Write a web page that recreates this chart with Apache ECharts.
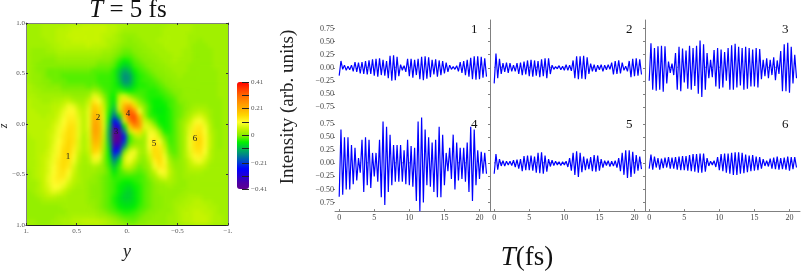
<!DOCTYPE html>
<html><head><meta charset="utf-8">
<style>html,body{margin:0;padding:0;background:#fff;width:801px;height:273px;overflow:hidden}
#clip{position:absolute;left:26px;top:23px;width:202px;height:202px;overflow:hidden;background:#98f000}
#heat{width:202px;height:202px;filter:blur(2px)}
#main{position:absolute;left:0;top:0;width:801px;height:273px}</style>
<script src="https://cdn.jsdelivr.net/npm/echarts@6/dist/echarts.min.js"></script></head>
<body><div id="clip"><div id="heat"></div></div><div id="main"></div>
<script>
// z (top to bottom) by y (left to right), hundredths of intensity
const heatRows=[
[2,2,2,3,3,3,3,3,4,4,4,5,5,5,5,5,4,4,3,3,2,2,2,2,2,2,2,2,3,3,3,3,3,2,2,2,2,2,2,2],
[2,2,2,3,3,3,4,4,4,5,5,5,5,5,5,5,4,4,3,2,2,2,2,2,2,2,2,3,3,3,3,3,3,2,2,2,2,2,2,2],
[2,2,2,3,3,3,4,4,5,5,5,5,5,5,5,4,4,3,2,1,1,1,2,2,2,2,2,3,3,3,3,3,2,2,2,2,2,2,2,2],
[2,2,2,2,3,3,4,4,4,5,5,5,5,5,5,4,3,3,2,1,0,1,1,2,2,2,3,3,3,3,3,3,2,2,1,2,2,2,2,2],
[2,2,2,2,2,3,3,4,4,4,4,4,5,4,4,4,3,2,1,0,0,0,1,1,2,2,2,3,3,3,3,3,2,1,1,1,2,2,2,2],
[2,1,1,1,2,2,3,3,3,3,3,3,3,3,3,2,2,1,0,-1,-1,0,0,1,1,2,2,2,3,3,3,2,2,1,1,1,1,2,2,2],
[2,1,1,1,1,1,2,2,2,2,2,2,2,2,2,1,1,0,-1,-2,-2,-1,0,0,1,1,2,2,2,3,3,2,2,1,1,1,1,2,2,2],
[2,1,1,0,0,0,1,1,1,1,1,1,1,1,0,0,0,-1,-3,-5,-4,-2,-1,0,0,1,1,2,2,3,2,2,2,1,1,1,1,2,2,2],
[2,1,0,0,0,0,0,0,0,0,0,0,0,0,-1,-1,-1,-2,-5,-8,-7,-3,-2,-1,0,0,1,1,2,2,2,2,1,1,1,1,1,2,2,2],
[2,1,0,0,-1,-1,-1,-1,-1,-1,-1,-1,-1,-2,-2,-2,-2,-4,-8,-12,-10,-5,-3,-2,-1,0,0,1,1,2,2,2,1,1,1,1,1,1,2,2],
[2,1,1,0,-1,-1,-1,-2,-2,-2,-2,-2,-2,-2,-3,-3,-3,-4,-9,-14,-13,-7,-4,-3,-2,-1,0,0,1,1,2,1,1,1,1,1,1,1,2,2],
[2,1,1,0,0,-1,-1,-1,-2,-2,-2,-2,-2,-2,-3,-3,-3,-4,-8,-14,-13,-7,-4,-3,-3,-2,-1,0,0,1,1,1,1,1,1,1,1,1,2,2],
[3,2,1,1,0,0,0,-1,-1,-1,-1,-1,-2,-1,-2,-3,-3,-4,-6,-10,-10,-6,-4,-4,-3,-3,-2,-1,0,0,1,1,1,1,1,1,1,1,2,2],
[3,2,2,1,1,1,1,0,0,0,0,0,0,2,1,-2,-3,-4,-3,-4,-5,-4,-3,-3,-4,-4,-3,-2,-1,0,0,1,1,1,1,1,1,1,2,2],
[3,3,2,2,2,2,2,2,2,1,1,1,2,8,6,0,-3,-5,4,7,2,-1,-2,-3,-4,-4,-4,-3,-2,-1,0,1,1,1,1,1,1,1,2,2],
[4,3,3,2,2,3,3,4,5,3,2,2,5,13,10,3,-3,-6,6,14,13,5,0,-2,-4,-5,-5,-4,-3,-2,0,0,1,1,1,1,1,1,1,2],
[4,3,3,3,3,4,4,6,9,8,4,3,7,17,14,5,-3,-8,7,20,24,15,4,0,-3,-5,-5,-5,-3,-2,-1,0,1,2,2,2,1,1,1,2],
[4,4,3,3,3,4,5,8,11,11,6,4,8,19,16,6,-4,-12,4,22,32,26,10,1,-3,-5,-6,-5,-4,-2,-1,0,2,3,4,3,2,1,1,2],
[4,4,4,3,4,4,6,9,12,12,7,4,8,21,18,7,-5,-18,-6,16,32,34,19,3,-3,-4,-5,-5,-4,-2,-1,1,3,6,7,5,2,1,1,2],
[4,4,4,4,4,5,7,10,13,13,8,4,8,22,20,7,-7,-26,-18,6,26,33,24,6,3,-2,-5,-5,-4,-2,0,2,5,9,10,7,3,1,1,2],
[4,4,4,4,4,6,8,11,14,14,8,4,8,23,21,7,-9,-33,-28,-6,16,26,24,8,7,3,-3,-5,-4,-2,0,3,7,12,13,9,4,1,1,2],
[4,4,4,4,5,6,9,12,15,14,8,4,7,23,21,6,-11,-39,-37,-16,4,14,16,5,9,8,2,-4,-4,-2,0,3,8,13,14,10,4,2,1,2],
[3,4,4,4,5,7,9,13,15,14,8,3,7,22,20,5,-11,-41,-41,-24,-3,3,5,2,10,11,6,-1,-3,-2,0,3,9,14,15,11,5,2,1,2],
[3,3,4,4,5,7,10,13,16,14,7,3,6,20,19,4,-10,-38,-38,-22,-3,0,1,2,11,14,10,2,-3,-2,0,3,9,14,16,11,5,2,1,2],
[3,3,4,4,5,8,11,14,16,13,7,3,6,18,17,3,-8,-33,-32,-14,0,3,2,2,10,15,13,5,-2,-2,0,3,9,14,15,11,5,2,1,2],
[3,3,4,4,6,8,11,15,16,12,6,3,5,16,14,2,-6,-27,-22,-1,7,9,3,2,8,15,14,7,-1,-2,0,3,8,13,14,10,4,2,2,2],
[3,3,4,5,6,9,12,15,15,11,5,2,4,12,11,1,-5,-20,-12,5,10,8,2,1,6,14,15,9,1,-1,0,3,7,11,12,8,4,2,2,2],
[3,3,4,5,7,9,13,15,14,9,4,2,3,8,7,0,-4,-14,-6,6,9,5,1,0,4,12,15,11,3,0,1,2,5,8,9,6,3,2,2,2],
[3,3,4,5,7,10,13,15,13,7,3,2,2,3,2,0,-3,-9,-3,4,5,2,-1,0,2,9,13,12,4,1,1,2,4,5,5,4,2,2,2,2],
[2,3,4,5,7,10,13,14,11,6,3,2,2,2,1,0,-2,-6,-3,-1,0,-1,-2,-1,1,5,10,11,5,2,1,2,3,3,3,2,2,2,2,2],
[2,3,4,5,8,11,13,13,9,5,3,2,2,1,0,-1,-2,-4,-3,-3,-3,-3,-3,-2,0,2,6,8,4,2,1,2,2,2,2,2,2,2,2,2],
[2,2,3,5,8,11,12,11,7,4,3,2,1,1,0,-1,-2,-3,-4,-5,-5,-4,-3,-2,-1,1,2,3,3,2,1,1,2,2,2,2,2,2,2,2],
[2,2,3,5,7,10,10,8,5,3,2,2,1,0,0,-1,-2,-3,-5,-6,-7,-5,-4,-2,-1,0,1,1,2,1,1,1,2,2,2,2,2,2,2,2],
[1,2,3,4,6,8,7,5,3,2,2,2,1,0,0,-1,-2,-3,-5,-7,-8,-6,-4,-2,-1,0,1,1,1,1,1,2,2,2,2,2,2,2,2,2],
[1,1,2,3,4,4,3,3,2,2,2,2,1,0,0,-1,-2,-4,-6,-8,-8,-6,-4,-2,-1,0,0,1,1,1,2,2,3,3,3,2,2,2,2,2],
[1,1,1,2,2,2,2,2,2,2,2,2,1,1,0,-1,-2,-4,-6,-7,-7,-6,-4,-2,-1,0,0,1,1,2,2,3,3,4,4,3,3,2,2,2],
[1,1,1,1,1,1,1,2,2,2,2,2,2,1,0,-1,-2,-3,-5,-6,-6,-5,-3,-2,-1,0,0,1,1,2,3,3,4,4,4,4,3,3,2,2],
[1,1,1,1,1,1,1,1,2,2,2,2,2,2,1,0,-1,-2,-3,-4,-4,-3,-2,-1,0,0,1,1,1,2,3,4,4,5,5,4,4,3,2,2],
[1,1,1,1,1,1,2,2,2,3,3,3,3,3,2,2,1,0,-1,-2,-2,-2,-1,0,0,1,1,1,2,2,3,4,4,5,5,5,4,3,3,2],
[2,2,1,1,1,2,2,3,3,4,4,5,5,5,5,4,3,2,1,0,-1,-1,0,0,1,1,1,1,2,2,3,4,4,5,5,5,4,3,3,2]
];
const colorStops=['#600090','#4800a8','#2000d8','#0000ff','#0040d0','#007f90','#00b850','#00f000','#88ee00','#c8f400','#ffff30','#ffd800','#ffb000','#ff9000','#ff6800','#ff3800','#ff0000'];
const timeStep=0.25;
const panel1=[-.15,.13,-.03,.05,-.05,.03,-.04,.05,-.07,.11,-.08,.10,-.11,.11,-.12,.13,-.13,.14,-.12,.16,-.15,.17,-.17,.18,-.14,.15,-.15,.13,-.20,.23,-.25,.24,-.24,.21,-.16,.06,-.05,.04,-.08,.17,-.16,.17,-.19,.15,-.14,.17,-.22,.21,-.24,.22,-.21,.20,-.18,.15,-.13,.16,-.17,.14,-.14,.13,-.11,.10,-.08,.05,-.03,.02,-.03,.04,-.07,.11,-.10,.13,-.14,.15,-.17,.19,-.22,.22,-.23,.22,-.22,.21,-.19,.18,-.17];
const panel2=[-.30,.27,-.20,.17,-.12,.09,-.08,.10,-.10,.09,-.07,.05,-.07,.09,-.12,.10,-.14,.12,-.13,.14,-.16,.15,-.17,.14,-.15,.13,-.18,.16,-.16,.18,-.20,.18,-.12,.05,-.03,.02,-.02,.04,-.04,.03,-.05,.06,-.05,.05,-.06,.14,-.20,.22,-.22,.22,-.21,.23,-.22,.20,-.12,.08,-.07,.06,-.08,.05,-.04,.06,-.07,.05,-.04,.06,-.03,.10,-.13,.13,-.12,.14,-.11,.10,-.05,.03,-.07,.13,-.18,.17,-.16,.18,-.15,.16,-.13];
const panel3=[-.25,.47,-.42,.38,-.44,.41,-.42,.42,-.46,.41,-.30,.12,-.10,.08,-.14,.28,-.42,.40,-.45,.37,-.28,.33,-.40,.42,-.42,.38,-.35,.42,-.50,.52,-.56,.45,-.42,.28,-.20,.15,-.18,.34,-.36,.38,-.40,.35,-.38,.30,-.25,.38,-.42,.43,-.42,.46,-.38,.40,-.34,.38,-.42,.40,-.40,.38,-.36,.35,-.36,.38,-.38,.36,-.22,.15,-.16,.18,-.20,.15,-.14,.20,-.24,.14,-.12,.32,-.45,.45,-.45,.48,-.48,.40,-.30,.25,-.20];
const panel4=[-.64,.65,-.6,.5,-.5,.5,-.5,.35,-.4,.3,-.33,.1,-.18,.45,-.55,.5,-.42,.45,-.47,.2,-.25,.2,-.35,.45,-.65,.8,-.8,.7,-.55,.55,-.42,.35,-.35,.35,-.35,.35,-.35,.25,-.4,.45,-.42,.33,-.45,.3,-.72,.8,-.92,.88,-.75,.65,-.42,.5,-.45,.4,-.55,.45,-.65,.7,-.65,.55,-.42,.2,-.15,.3,-.3,.55,-.5,.4,-.33,.3,-.3,.3,-.35,.4,-.55,.7,-.72,.65,-.42,.25,-.3,.22,-.2,.2,-.2];
const panel5=[-.20,.18,-.12,.08,-.05,.05,-.05,.04,-.03,.04,-.04,.06,-.07,.07,-.10,.08,-.15,.14,-.13,.15,-.13,.15,-.14,.13,-.18,.20,-.19,.21,-.20,.15,-.16,.08,-.06,.06,-.04,.04,-.03,.03,-.04,.03,-.03,.04,-.07,.10,-.14,.20,-.22,.23,-.26,.20,-.17,.13,-.13,.09,-.11,.12,-.15,.16,-.16,.15,-.14,.08,-.08,.05,-.04,.05,-.06,.04,-.05,.05,-.08,.10,-.15,.20,-.22,.25,-.28,.25,-.26,.22,-.20,.16,-.14,.13,-.11];
const panel6=[-.10,.17,-.12,.13,-.08,.10,-.12,.09,-.09,.11,-.08,.12,-.10,.11,-.10,.12,-.12,.13,-.13,.14,-.13,.14,-.14,.16,-.15,.18,-.16,.18,-.18,.19,-.18,.19,-.16,.10,-.05,.04,-.03,.05,-.07,.12,-.13,.18,-.15,.19,-.18,.19,-.20,.20,-.22,.21,-.22,.21,-.20,.20,-.19,.17,-.17,.15,-.15,.16,-.14,.13,-.13,.12,-.10,.08,-.05,.05,-.06,.09,-.10,.11,-.11,.13,-.12,.10,-.11,.11,-.12,.13,-.14,.12,-.11,.12,-.08];
const panelValues=[panel1,panel2,panel3,panel4,panel5,panel6];
const panelNames=['1','2','3','4','5','6'];
const timeTicks=[0,5,10,15,20];
const topDots=[[3,4,8,9,10],[0,1,5,6,7,8,9,10,14,15,16],[3,4,8,9,10,17,18],[3,4,8,9,10,17,18],[0,1,5,6,7,8,9,10,15,16,20,21],[3,4,8,9,10,17,18]];
const intensityTicks=[.75,.5,.25,0,-.25,-.5,-.75];
const intensityLabelsTop=['0.75','0.50','0.25','0.00','−0.25','0.50','−0.75'];
const intensityLabelsBottom=['0.75','0.50','0.25','0.00','−0.25','−0.50','0.75'];
const mapTicks=[-1,-.5,0,.5,1];
const mapXLabels={'1':'1.','0.5':'0.5','0':'0.','-0.5':'−0.5','-1':'−1.'};
const mapYLabels={'1':'1.0','0.5':'0.5','0':'0.0','-0.5':'−0.5','-1':'1.0'};
const barTicks=[-.41,-.31,-.21,-.1,0,.1,.21,.31,.41];
const barLabels={'0.41':'0.41','0.21':'0.21','0':'0','-0.21':'−0.21','-0.41':'−0.41'};
const blobLabels=[['1',68,157],['2',98,118],['3',116,132],['4',128,114],['5',154,144],['6',195,139]];

const serif='"Liberation Serif",serif';
const heatData=[];
heatRows.forEach((row,r)=>row.forEach((v,c)=>heatData.push([c,r,v/100])));
const idx=n=>Array.from({length:n},(_,i)=>i);
const heat=echarts.init(document.getElementById('heat'),null,{renderer:'canvas'});
heat.setOption({animation:false,
 grid:{left:0,right:0,top:0,bottom:0},
 xAxis:{type:'category',data:idx(40),show:false},
 yAxis:{type:'category',data:idx(40),inverse:true,show:false},
 visualMap:{show:false,min:-.41,max:.41,dimension:2,inRange:{color:colorStops}},
 series:[{type:'heatmap',data:heatData,progressive:0}]});

const lefts=[335,490,645],tops=[20,115.6];
const grids=[],xs=[],ys=[],series=[];
grids.push({left:26,top:23,width:202,height:202});
const gray='#808080',txt='#555';
xs.push({gridIndex:0,type:'value',min:-1,max:1,inverse:true,
 axisLine:{onZero:false,lineStyle:{color:'#222',width:1}},
 axisTick:{customValues:mapTicks,inside:true,length:2,lineStyle:{color:'#333'}},
 axisLabel:{customValues:mapTicks,fontFamily:serif,fontSize:7,color:txt,margin:3,formatter:v=>mapXLabels[String(v)]},
 splitLine:{show:false}});
xs.push({gridIndex:0,type:'value',min:-1,max:1,inverse:true,position:'top',
 axisLine:{onZero:false,lineStyle:{color:gray}},
 axisTick:{customValues:mapTicks,inside:true,length:2,lineStyle:{color:'#333'}},
 axisLabel:{show:false},splitLine:{show:false}});
ys.push({gridIndex:0,type:'value',min:-1,max:1,
 axisLine:{onZero:false,lineStyle:{color:gray}},
 axisTick:{customValues:mapTicks,inside:true,length:2,lineStyle:{color:'#333'}},
 axisLabel:{customValues:mapTicks,fontFamily:serif,fontSize:7,color:txt,margin:1,formatter:v=>mapYLabels[String(v)]},
 splitLine:{show:false}});
ys.push({gridIndex:0,type:'value',min:-1,max:1,position:'right',
 axisLine:{onZero:false,lineStyle:{color:gray}},
 axisTick:{customValues:mapTicks,inside:true,length:2,lineStyle:{color:'#333'}},
 axisLabel:{show:false},splitLine:{show:false}});
grids.push({left:237,top:82,width:12,height:107});
xs.push({gridIndex:1,type:'value',min:0,max:1,show:false});
ys.push({gridIndex:1,type:'value',min:-.41,max:.41,position:'right',z:20,
 axisLine:{show:false,onZero:false},
 axisTick:{customValues:barTicks,inside:true,length:7,lineStyle:{color:'#222',width:1}},
 axisLabel:{customValues:[-.41,-.21,0,.21,.41],fontFamily:serif,fontSize:7,color:txt,margin:2,formatter:v=>barLabels[String(v)]},
 splitLine:{show:false}});
panelValues.forEach((vals,p)=>{
 const row=p<3?0:1,col=p%3,g=grids.length;
 grids.push({left:lefts[col],top:tops[row],width:155,height:95.5});
 const bottom=row===1;
 const xi=xs.length;
 xs.push({gridIndex:g,type:'value',min:-.6,max:21.5,show:bottom,
  axisLine:{onZero:false,lineStyle:{color:gray,width:1}},
  axisTick:{customValues:timeTicks,inside:true,length:2,lineStyle:{color:gray}},
  axisLabel:{customValues:timeTicks,fontFamily:serif,fontSize:8,color:'#444',margin:3,formatter:v=>String(v)},
  splitLine:{show:false}});
 xs.push({gridIndex:g,type:'value',min:-.6,max:21.5,position:'top',
  axisLine:{show:false},
  axisTick:{customValues:topDots[p],inside:false,length:1,lineStyle:{color:'#888'}},
  axisLabel:{show:false},splitLine:{show:false}});
 const yi=ys.length;
 ys.push({gridIndex:g,type:'value',min:-.915,max:.915,
  axisLine:{show:col>0,onZero:false,lineStyle:{color:gray,width:1}},
  axisTick:{customValues:intensityTicks,length:2,lineStyle:{color:gray}},
  axisLabel:{show:col===0,customValues:intensityTicks,fontFamily:serif,fontSize:8,color:'#444',margin:1,
   formatter:v=>(row===0?intensityLabelsTop:intensityLabelsBottom)[intensityTicks.indexOf(v)]},
  splitLine:{show:false}});
 series.push({type:'line',xAxisIndex:xi,yAxisIndex:yi,showSymbol:false,symbol:'none',smooth:false,clip:true,
  lineStyle:{color:'#0000ff',width:1.2},
  data:vals.map((v,i)=>[i*timeStep,v])});
});
const texts=[];
panelNames.forEach((n,p)=>texts.push({type:'text',left:[471,626,782][p%3],top:p<3?23:118,style:{text:n,font:'13px '+serif,fill:'#111'}}));
blobLabels.forEach(b=>texts.push({type:'text',x:b[1],y:b[2],style:{text:b[0],font:'9px '+serif,fill:'#222',textAlign:'center',textVerticalAlign:'middle'}}));
texts.push({type:'text',x:128,y:10,style:{rich:{i:{font:'italic 25px '+serif,fill:'#111'},r:{font:'25px '+serif,fill:'#111'}},text:'{i|T}{r| = 5 fs}',textAlign:'center',textVerticalAlign:'middle'}});
texts.push({type:'text',x:127,y:252,style:{text:'y',font:'italic 18px '+serif,fill:'#222',textAlign:'center',textVerticalAlign:'middle'}});
texts.push({type:'text',x:4,y:126,rotation:Math.PI/2,style:{text:'z',font:'italic 12px '+serif,fill:'#222',textAlign:'center',textVerticalAlign:'middle'}});
texts.push({type:'text',x:288,y:107,rotation:Math.PI/2,style:{text:'Intensity (arb. units)',font:'19px '+serif,fill:'#222',textAlign:'center',textVerticalAlign:'middle'}});
texts.push({type:'text',x:527,y:258,style:{rich:{i:{font:'italic 27px '+serif,fill:'#111'},r:{font:'27px '+serif,fill:'#111'}},text:'{i|T}{r|(fs)}',textAlign:'center',textVerticalAlign:'middle'}});

const main=echarts.init(document.getElementById('main'),null,{renderer:'canvas'});
main.setOption({animation:false,backgroundColor:'transparent',
 grid:grids,xAxis:xs,yAxis:ys,series:series,
 visualMap:{type:'continuous',seriesIndex:[],show:true,min:-.41,max:.41,left:237,top:82,itemWidth:12,itemHeight:107,calculable:false,text:null,
  inRange:{color:colorStops},showLabel:false,padding:0,textStyle:{fontSize:0}},
 graphic:texts});
</script></body></html>
